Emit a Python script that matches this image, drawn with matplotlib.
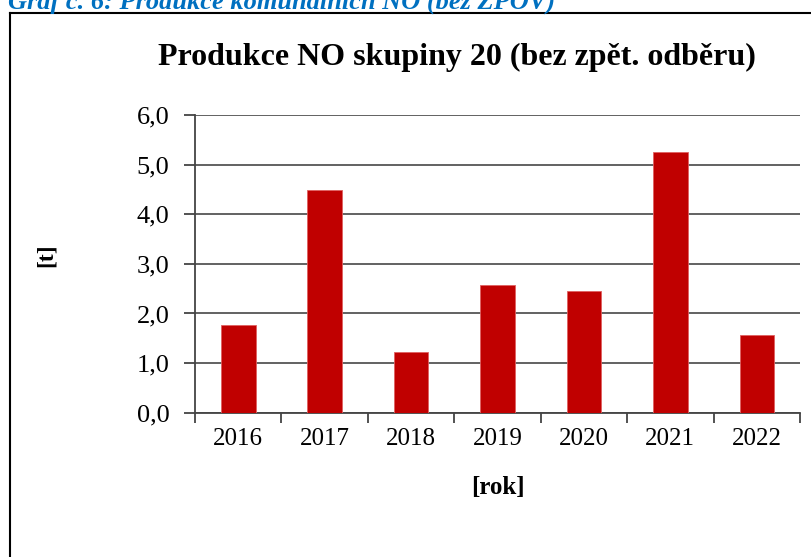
import matplotlib
matplotlib.use("Agg")
import matplotlib.pyplot as plt
from matplotlib.lines import Line2D
import numpy as np

years = ["2016", "2017", "2018", "2019", "2020", "2021", "2022"]
values = [1.77, 4.49, 1.23, 2.57, 2.45, 5.26, 1.56]
yticks = [0, 1, 2, 3, 4, 5, 6]
ytick_labels = ["0,0", "1,0", "2,0", "3,0", "4,0", "5,0", "6,0"]

W, H = 811, 557
fig = plt.figure(figsize=(W / 100, H / 100), dpi=100)
serif = ["Liberation Serif", "DejaVu Serif"]

# outer frame of the embedded chart (left and top edges visible)
fig.add_artist(Line2D([10 / W, 10 / W], [0, 1 - 12.5 / H], color="black", lw=1.5, transform=fig.transFigure))
fig.add_artist(Line2D([10 / W, 1], [1 - 12.5 / H, 1 - 12.5 / H], color="black", lw=1.5, transform=fig.transFigure))

# clipped caption at the very top
fig.text(8 / W, 1 - 8.5 / H, "Graf č. 6: Produkce komunálních NO (bez ZPOV)", family=serif,
         fontsize=19, fontweight="bold", style="italic", color="#0070C0", va="baseline", ha="left")

ax = fig.add_axes([195 / W, 1 - 412.7 / H, (800 - 195) / W, (412.7 - 115) / H])
x = np.arange(len(years))
ax.bar(x, values, width=0.4, color="#C00000", edgecolor="#E06060", linewidth=0.6, zorder=3)

ax.set_xlim(-0.5, len(years) - 0.5)
ax.set_ylim(0, 6)
ax.set_yticks(yticks)
ax.set_yticklabels(ytick_labels)
ax.set_xticks(x)
ax.set_xticklabels(years)
ax.set_xticks(np.arange(-0.5, len(years), 1.0), minor=True)

ax.grid(axis="y", color="#555555", linewidth=1.3, zorder=0)
for s in ["top", "right"]:
    ax.spines[s].set_visible(False)
for s in ["left", "bottom"]:
    ax.spines[s].set_color("#444444")
    ax.spines[s].set_linewidth(1.3)

ax.tick_params(axis="y", direction="out", length=8, width=1.3, color="#444444", pad=10.5, labelsize=19)
ax.tick_params(axis="x", which="major", length=0, pad=11, labelsize=18)
ax.tick_params(axis="x", which="minor", direction="out", length=7, width=1.3, color="#444444")
for lbl in ax.get_yticklabels() + ax.get_xticklabels():
    lbl.set_family(serif)

ax.set_xlabel("[rok]", family=serif, fontsize=18, fontweight="bold", labelpad=19)
fig.text(46 / W, 1 - 255 / H, "[t]", family=serif, fontsize=17, fontweight="bold",
         rotation=90, ha="center", va="center")

fig.text(457 / W, 1 - 57 / H, "Produkce NO skupiny 20 (bez zpět. odběru)", family=serif,
         fontsize=23, fontweight="bold", ha="center", va="center")

fig.savefig("out.png", dpi=100)
